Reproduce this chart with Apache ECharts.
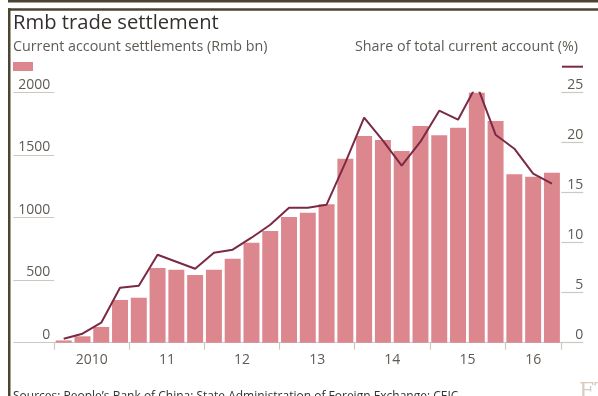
<!DOCTYPE html>
<html>
<head>
<meta charset="utf-8">
<style>
  html, body { margin: 0; padding: 0; background: #ffffff; }
  #chart { width: 598px; height: 396px; }
</style>
<script src="https://cdn.jsdelivr.net/npm/echarts@6/dist/echarts.min.js"></script>
</head>
<body>
<div id="chart"></div>
<script>
// Quarterly categories, 2010 Q1 to 2016 Q3
const quarters = [
  '2010Q1','2010Q2','2010Q3','2010Q4',
  '2011Q1','2011Q2','2011Q3','2011Q4',
  '2012Q1','2012Q2','2012Q3','2012Q4',
  '2013Q1','2013Q2','2013Q3','2013Q4',
  '2014Q1','2014Q2','2014Q3','2014Q4',
  '2015Q1','2015Q2','2015Q3','2015Q4',
  '2016Q1','2016Q2','2016Q3'
];

// Current account settlements in renminbi (Rmb bn)
const settlements = [
  18, 51, 126, 342,
  360, 598, 584, 542,
  584, 672, 800, 894,
  1005, 1040, 1107, 1472,
  1654, 1622, 1534, 1734,
  1659, 1720, 2088, 1774,
  1347, 1328, 1360
];

// Share of total current account (%)
const sharePct = [
  0.4, 0.9, 2.0, 5.5,
  5.7, 8.8, 8.1, 7.4,
  9.0, 9.3, 10.5, 11.8,
  13.5, 13.5, 13.8, 18.0,
  22.5, 20.2, 17.7, 20.1,
  23.2, 22.3, 25.8, 20.8,
  19.4, 16.9, 15.9
];

// Year labels on the time axis
const yearLabels = ['2010', '11', '12', '13', '14', '15', '16'];

const leftTicks = { min: 0, max: 2000, interval: 500 };
const rightTicks = { min: 0, max: 25, interval: 5 };

const BAR = '#dc878e';
const LINE = '#7b2945';
const TEXT = '#5f5a55';
const RULE = '#cdc8c1';
const FRAME = '#4b4431';
const FONT = '"Open Sans", "Noto Sans", sans-serif';

const chart = echarts.init(document.getElementById('chart'), null, { renderer: 'canvas' });

chart.setOption({
  animation: false,
  backgroundColor: '#ffffff',
  textStyle: { fontFamily: FONT },
  title: [
    {
      text: 'Rmb trade settlement',
      left: 13, top: 13, padding: 0,
      textStyle: { fontFamily: FONT, fontSize: 20.2, fontWeight: 'normal', color: '#33302e' }
    },
    {
      text: 'Current account settlements (Rmb bn)',
      left: 13, top: 40, padding: 0,
      textStyle: { fontFamily: FONT, fontSize: 14.3, fontWeight: 'normal', color: TEXT }
    },
    {
      text: 'Share of total current account (%)',
      right: 20, top: 40, padding: 0,
      textStyle: { fontFamily: FONT, fontSize: 14.3, fontWeight: 'normal', color: TEXT }
    },
    {
      text: 'Sources: People\u2019s Bank of China; State Administration of Foreign Exchange; CEIC',
      left: 13, top: 391, padding: 0,
      textStyle: { fontFamily: FONT, fontSize: 12, fontWeight: 'normal', color: '#33302e' }
    }
  ],
  legend: [
    {
      data: ['Current account settlements'],
      left: 13, top: 62,
      itemWidth: 20, itemHeight: 9, icon: 'rect',
      formatter: () => '', itemGap: 0, padding: 0
    },
    {
      data: [{ name: 'Share of total current account', icon: 'rect' }],
      left: 562, top: 65.7,
      itemWidth: 21, itemHeight: 2,
      formatter: () => '', itemGap: 0, padding: 0
    }
  ],
  grid: { left: 54.3, right: 36.7, top: 92.7, bottom: 53.3, containLabel: false },
  xAxis: {
    type: 'category',
    data: quarters,
    boundaryGap: true,
    axisLine: { show: true, lineStyle: { color: RULE, width: 1.2 } },
    axisTick: { show: true, interval: 3, length: 7, lineStyle: { color: RULE, width: 1.2 } },
    axisLabel: {
      interval: (i) => i % 4 === 1,
      margin: 10,
      fontSize: 14,
      color: TEXT,
      fontFamily: FONT,
      formatter: (v, i) => {
        const y = yearLabels[Math.floor(i / 4)];
        // full years sit centred on their four quarters; the part year on its middle quarter
        return (i + 3 < quarters.length) ? '{full|' + y + '}' : '{part|' + y + '}';
      },
      rich: {
        full: { fontSize: 14, color: TEXT, fontFamily: FONT, padding: [0, 0, 0, 18.75] },
        part: { fontSize: 14, color: TEXT, fontFamily: FONT }
      }
    },
    splitLine: { show: false }
  },
  yAxis: [
    {
      type: 'value',
      position: 'left',
      min: leftTicks.min, max: leftTicks.max, interval: leftTicks.interval,
      axisLine: { show: false },
      axisTick: { show: true, length: 41, lineStyle: { color: RULE, width: 1.2 } },
      splitLine: { show: false },
      axisLabel: {
        margin: 4, align: 'right', verticalAlign: 'bottom',
        fontSize: 14, color: TEXT, fontFamily: FONT, padding: [0, 0, 1, 0],
        formatter: (v) => String(v)
      }
    },
    {
      type: 'value',
      position: 'right',
      min: rightTicks.min, max: rightTicks.max, interval: rightTicks.interval,
      axisLine: { show: false },
      axisTick: { show: true, length: 22, lineStyle: { color: RULE, width: 1.2 } },
      splitLine: { show: false },
      axisLabel: {
        margin: 22, align: 'right', verticalAlign: 'bottom',
        fontSize: 14, color: TEXT, fontFamily: FONT, padding: [0, 0, 1, 0],
        formatter: (v) => String(v)
      }
    }
  ],
  series: [
    {
      name: 'Current account settlements',
      type: 'bar',
      yAxisIndex: 0,
      data: settlements,
      barCategoryGap: '15%',
      itemStyle: { color: BAR },
      emphasis: { disabled: true }
    },
    {
      name: 'Share of total current account',
      type: 'line',
      yAxisIndex: 1,
      data: sharePct,
      symbol: 'none',
      lineStyle: { color: LINE, width: 2 },
      itemStyle: { color: LINE },
      z: 3,
      emphasis: { disabled: true }
    }
  ],
  graphic: [
    { type: 'rect', shape: { x: 8, y: 0, width: 590, height: 2.5 }, style: { fill: FRAME }, silent: true },
    { type: 'rect', shape: { x: 8, y: 8.3, width: 590, height: 2.5 }, style: { fill: FRAME }, silent: true },
    { type: 'rect', shape: { x: 8, y: 8.3, width: 2.5, height: 388 }, style: { fill: FRAME }, silent: true },
    {
      type: 'text', left: 579, top: 381, silent: true,
      style: { text: 'FT', fontFamily: '"DejaVu Serif", "Liberation Serif", serif', fontSize: 22, fill: '#d9cbbd' }
    }
  ]
});
</script>
</body>
</html>
